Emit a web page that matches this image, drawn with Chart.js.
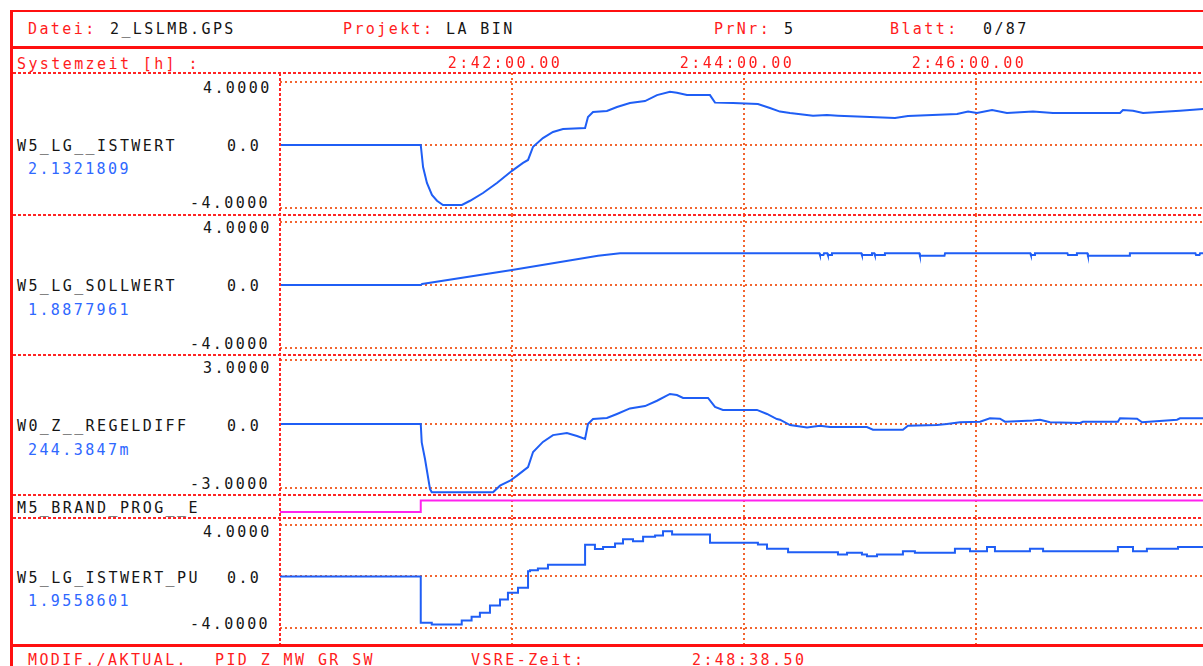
<!DOCTYPE html>
<html>
<head>
<meta charset="utf-8">
<script src="https://cdn.jsdelivr.net/npm/chart.js@4.4.0/dist/chart.umd.min.js"></script>
<style>
  html, body { margin: 0; padding: 0; background: #fff; }
  body {
    width: 1203px; height: 666px; overflow: hidden; position: relative;
    font: 15px/18px "DejaVu Sans Mono", monospace; letter-spacing: 2.4px;
  }
  .t { position: absolute; white-space: pre; }
  .r { color: #ff1c1c; }
  .k { color: #151515; }
  .b { color: #2f68ff; }
  .solid { position: absolute; background: #ff1010; }
  .hl { position: absolute; height: 2px;
        background: repeating-linear-gradient(to right, #ff2424 0 3px, transparent 3px 5px); }
  .vl { position: absolute; width: 2px;
        background: repeating-linear-gradient(to bottom, #ff2424 0 3px, transparent 3px 5px); }
  canvas { position: absolute; }
</style>
</head>
<body>

<!-- Kopfzeile -->
<div class="t r" style="left:28px;top:20px">Datei:</div>
<div class="t k" style="left:110px;top:20px">2_LSLMB.GPS</div>
<div class="t r" style="left:343px;top:20px">Projekt:</div>
<div class="t k" style="left:446px;top:20px">LA BIN</div>
<div class="t r" style="left:714px;top:20px">PrNr:</div>
<div class="t k" style="left:784px;top:20px">5</div>
<div class="t r" style="left:890px;top:20px">Blatt:</div>
<div class="t k" style="left:983px;top:20px">0/87</div>

<div class="t r" style="left:17px;top:55px">Systemzeit [h] :</div>

<!-- Fusszeile -->
<div class="t r" style="left:28px;top:651px">MODIF./AKTUAL.</div>
<div class="t r" style="left:215px;top:651px">PID Z MW GR SW</div>
<div class="t r" style="left:471px;top:651px">VSRE-Zeit:</div>
<div class="t r" style="left:692px;top:651px">2:48:38.50</div>

<canvas id="p1" width="928" height="166" style="left:280px;top:49px"></canvas>
<canvas id="p2" width="928" height="140" style="left:280px;top:215px"></canvas>
<canvas id="p3" width="928" height="140" style="left:280px;top:355px"></canvas>
<canvas id="p4" width="928" height="23" style="left:280px;top:495px"></canvas>
<canvas id="p5" width="928" height="127" style="left:280px;top:518px"></canvas>

<!-- Rahmen -->
<div class="solid" style="left:10px;top:10px;width:1193px;height:2px"></div>
<div class="solid" style="left:10px;top:10px;width:3px;height:656px"></div>
<div class="solid" style="left:10px;top:46px;width:1193px;height:3px"></div>
<div class="solid" style="left:10px;top:644px;width:1193px;height:3px"></div>
<div class="hl" style="left:13px;top:72px;width:1190px"></div>
<div class="hl" style="left:13px;top:214px;width:1190px"></div>
<div class="hl" style="left:13px;top:354px;width:1190px"></div>
<div class="hl" style="left:13px;top:494px;width:1190px"></div>
<div class="hl" style="left:13px;top:517px;width:1190px"></div>
<div class="vl" style="left:279px;top:73px;height:571px"></div>

<script>
// Zeit in Sekunden ab 2:40:00
var T0 = 2 * 3600 + 40 * 60
var xMax = 480
var timeTicks = [120, 240, 360]

var istTime = [0, 72.8, 74, 76, 78.6, 81.2, 84.3, 94.1, 98.3, 105, 112.2, 120, 125.7, 128.3, 130.9, 136, 141.2, 146.4, 157.8, 159.3,
  161.9, 169.1, 174.3, 181, 188.8, 195, 201.7, 205.3, 210.5, 222.4, 225, 234.3, 247.2, 253.4, 258.6, 263.8, 275.7, 282.9, 288.6, 305.2,
  318.1, 324.8, 350.2, 355.9, 360.5, 368.3, 376, 389.5, 399.8, 434.5, 436, 441.2, 446.4, 465.5, 477.4, 480]
var istValue = [0, 0, -1.40, -2.41, -3.17, -3.54, -3.81, -3.81, -3.54, -3.05, -2.41, -1.64, -1.14, -0.95, -0.11, 0.44, 0.83, 1.02, 1.08, 1.78,
  2.10, 2.16, 2.41, 2.67, 2.79, 3.17, 3.38, 3.32, 3.17, 3.17, 2.69, 2.67, 2.60, 2.35, 2.12, 2.03, 1.86, 1.90, 1.86, 1.78,
  1.71, 1.84, 1.97, 2.12, 2.03, 2.22, 2.03, 2.12, 2.03, 2.03, 2.22, 2.18, 2.03, 2.18, 2.29, 2.29]

var sollTime = [0, 72.8, 73.5, 120, 164.5, 175.9, 279, 279.3, 281.1, 281.4, 283.1, 283.4, 285.2, 285.5, 300.7, 301, 305.9, 306.2,
  307.4, 307.7, 312.6, 312.9, 330.7, 331, 343.7, 344, 388.1, 388.4, 390.2, 390.5, 407.3, 407.6, 411.9, 412.2, 417.6, 417.9,
  439.3, 439.6, 473.5, 473.8, 475.6, 475.9, 480]
var sollValue = [0, 0, 0.06, 0.95, 1.85, 2.01, 2.01, 1.9, 1.9, 2.01, 2.01, 1.9, 1.9, 2.01, 2.01, 1.9, 1.9, 2.01,
  2.01, 1.9, 1.9, 2.01, 2.01, 1.86, 1.86, 2.01, 2.01, 1.9, 1.9, 2.01, 2.01, 1.9, 1.9, 2.01, 2.01, 1.86,
  1.86, 2.01, 2.01, 1.9, 1.9, 2.01, 2.01]

var regTime = [0, 72.8, 73.3, 75, 77.6, 78.5, 110.2, 113.8, 119, 122.6, 128.3, 130.9, 136, 141.2, 148.4, 153.6, 157.8, 159.3, 161.9, 169.1,
  174.3, 181, 188.8, 195, 201.7, 205.3, 208.5, 221.4, 225, 229.1, 246.7, 251.9, 257, 258.6, 263.8, 272.6, 279.3, 284.5, 303.6, 306.7,
  322.2, 324.8, 339.8, 345, 351.7, 362.1, 367.2, 372.4, 375, 389.5, 393.1, 398.3, 413.8, 415.3, 433.4, 434.5, 443.3, 445.9, 464, 465.5, 480]
var regValue = [0, 0, -0.86, -1.64, -3.05, -3.2, -3.2, -2.89, -2.66, -2.42, -2.02, -1.31, -0.84, -0.52, -0.42, -0.56, -0.70, 0, 0.23, 0.28,
  0.47, 0.73, 0.84, 1.09, 1.41, 1.36, 1.22, 1.22, 0.80, 0.66, 0.66, 0.47, 0.23, 0.2, -0.05, -0.16, -0.08, -0.14, -0.14, -0.27,
  -0.27, -0.08, -0.05, 0, 0.08, 0.11, 0.27, 0.25, 0.11, 0.16, 0.2, 0.08, 0.05, 0.1, 0.1, 0.27, 0.25, 0.08, 0.2, 0.27, 0.27]

var brandTime = [0, 72.8, 480]
var brandValue = [0, 1, 1]

var puTime = [0, 72.8, 78.5, 94, 99.1, 103.4, 108.6, 113.8, 117.9, 123.1, 128.3, 129.3, 133.4, 138.6, 157.8, 162.9, 167.1, 173.3, 177.4, 182.6,
  187.8, 194, 198.1, 202.8, 222.4, 247.2, 251.9, 262.8, 288.6, 293.3, 301, 303.6, 308.8, 322.2, 328.4, 349.1, 356.9, 365.7, 369.8, 387.9,
  394.7, 433.4, 441.2, 448.4, 464.5, 480]
var puValue = [0, -3.6, -3.73, -3.42, -3.13, -2.82, -2.25, -1.79, -1.26, -0.88, 0.41, 0.49, 0.62, 0.91, 2.46, 2.13, 2.3, 2.56, 2.9, 2.74,
  3.08, 3.18, 3.52, 3.26, 2.62, 2.49, 2.15, 1.89, 1.71, 1.84, 1.71, 1.58, 1.71, 1.96, 1.84, 2.15, 1.96, 2.3, 1.96, 2.15,
  1.96, 2.3, 1.96, 2.15, 2.3, 2.3]

var channelNames = ['W5_LG__ISTWERT', 'W5_LG_SOLLWERT', 'W0_Z__REGELDIFF', 'M5_BRAND_PROG__E', 'W5_LG_ISTWERT_PU']
var cursorValues = ['2.1321809', '1.8877961', '244.3847m', '', '1.9558601']
var yHigh = [4, 4, 3, 1, 4]
var yLow = [-4, -4, -3, 0, -4]
var yHighLabels = ['4.0000', '4.0000', '3.0000', '', '4.0000']
var yZeroLabels = ['0.0', '0.0', '0.0', '', '0.0']
var yLowLabels = ['-4.0000', '-4.0000', '-3.0000', '', '-4.0000']

var BLUE = '#1f5ef5'
var MAGENTA = '#ff22ee'
var GRID = '#f26530'
var FONT = { family: 'DejaVu Sans Mono', size: 15 }

function pad(n) { return (n < 10 ? '0' : '') + n }
function fmtTime(sec) {
  var s = Math.round(T0 + sec)
  return Math.floor(s / 3600) + ':' + pad(Math.floor(s / 60) % 60) + ':' + pad(s % 60) + '.00'
}

var spacing = {
  id: 'spacing',
  beforeDraw: function (chart) { chart.ctx.letterSpacing = '2.4px' }
}

// Pixelgeometrie der Spuren (Canvas oben/unten, Gitterlinie oben/unten)
var panels = [
  { id: 'p1', top: 49, bottom: 215, axisH: 24, gTop: 82, gBot: 208, time: istTime, value: istValue, color: BLUE, stepped: false,
    lab: { name: 145, val: 168, hi: 87, lo: 202 } },
  { id: 'p2', top: 215, bottom: 355, axisH: 0, gTop: 222, gBot: 348, time: sollTime, value: sollValue, color: BLUE, stepped: false,
    lab: { name: 285, val: 309, hi: 227, lo: 343 } },
  { id: 'p3', top: 355, bottom: 495, axisH: 0, gTop: 360, gBot: 488, time: regTime, value: regValue, color: BLUE, stepped: false,
    lab: { name: 425, val: 449, hi: 367, lo: 483 } },
  { id: 'p4', top: 495, bottom: 518, axisH: 0, gTop: 500.5, gBot: 512, time: brandTime, value: brandValue, color: MAGENTA, stepped: true,
    lab: { name: 507 } },
  { id: 'p5', top: 518, bottom: 645, axisH: 0, gTop: 525, gBot: 628, time: puTime, value: puValue, color: BLUE, stepped: true,
    lab: { name: 577, val: 600, hi: 531, lo: 623 } }
]

function addText(txt, cls, left, cy) {
  if (!txt) return
  var d = document.createElement('div')
  d.className = 't ' + cls
  d.style.left = left + 'px'
  d.style.top = (cy - 8) + 'px'
  d.textContent = txt
  document.body.appendChild(d)
}

panels.forEach(function (p, i) {
  addText(channelNames[i], 'k', 17, p.lab.name)
  addText(cursorValues[i], 'b', 28, p.lab.val)
  addText(yHighLabels[i], 'k', 203, p.lab.hi)
  addText(yZeroLabels[i], 'k', 227, p.lab.name)
  addText(yLowLabels[i], 'k', 190, p.lab.lo)

  var areaTop = p.top + p.axisH
  var ppu = (p.gBot - p.gTop) / (yHigh[i] - yLow[i])
  var yMax = yHigh[i] + (p.gTop - areaTop) / ppu
  var yMin = yLow[i] - (p.bottom - p.gBot) / ppu
  var yTicks = i === 3 ? [] : [yLow[i], 0, yHigh[i]]

  new Chart(document.getElementById(p.id), {
    type: 'line',
    data: {
      datasets: [{
        data: p.time.map(function (t, k) { return { x: t, y: p.value[k] } }),
        borderColor: p.color,
        borderWidth: 2,
        pointRadius: 0,
        stepped: p.stepped,
        tension: 0
      }]
    },
    options: {
      responsive: false,
      animation: false,
      events: [],
      layout: { padding: 0, autoPadding: false },
      plugins: { legend: { display: false }, tooltip: { enabled: false } },
      scales: {
        x: {
          type: 'linear',
          position: 'top',
          min: 0,
          max: xMax,
          afterBuildTicks: function (s) { s.ticks = timeTicks.map(function (v) { return { value: v } }) },
          afterFit: function (s) { s.height = p.axisH },
          grid: { color: GRID, lineWidth: 2, drawTicks: false, borderDash: [2, 3] },
          border: { display: false, dash: [2, 3] },
          ticks: {
            display: p.axisH > 0,
            autoSkip: false,
            maxRotation: 0,
            padding: 0,
            labelOffset: -7,
            color: '#ff1c1c',
            font: FONT,
            callback: function (v) { return fmtTime(v) }
          }
        },
        y: {
          min: yMin,
          max: yMax,
          afterBuildTicks: function (s) { s.ticks = yTicks.map(function (v) { return { value: v } }) },
          afterFit: function (s) { s.width = 0 },
          grid: { display: i !== 3, color: GRID, lineWidth: 2, drawTicks: false, borderDash: [2, 3] },
          border: { display: false, dash: [2, 3] },
          ticks: { display: false }
        }
      }
    },
    plugins: [spacing]
  })
})
</script>
</body>
</html>
